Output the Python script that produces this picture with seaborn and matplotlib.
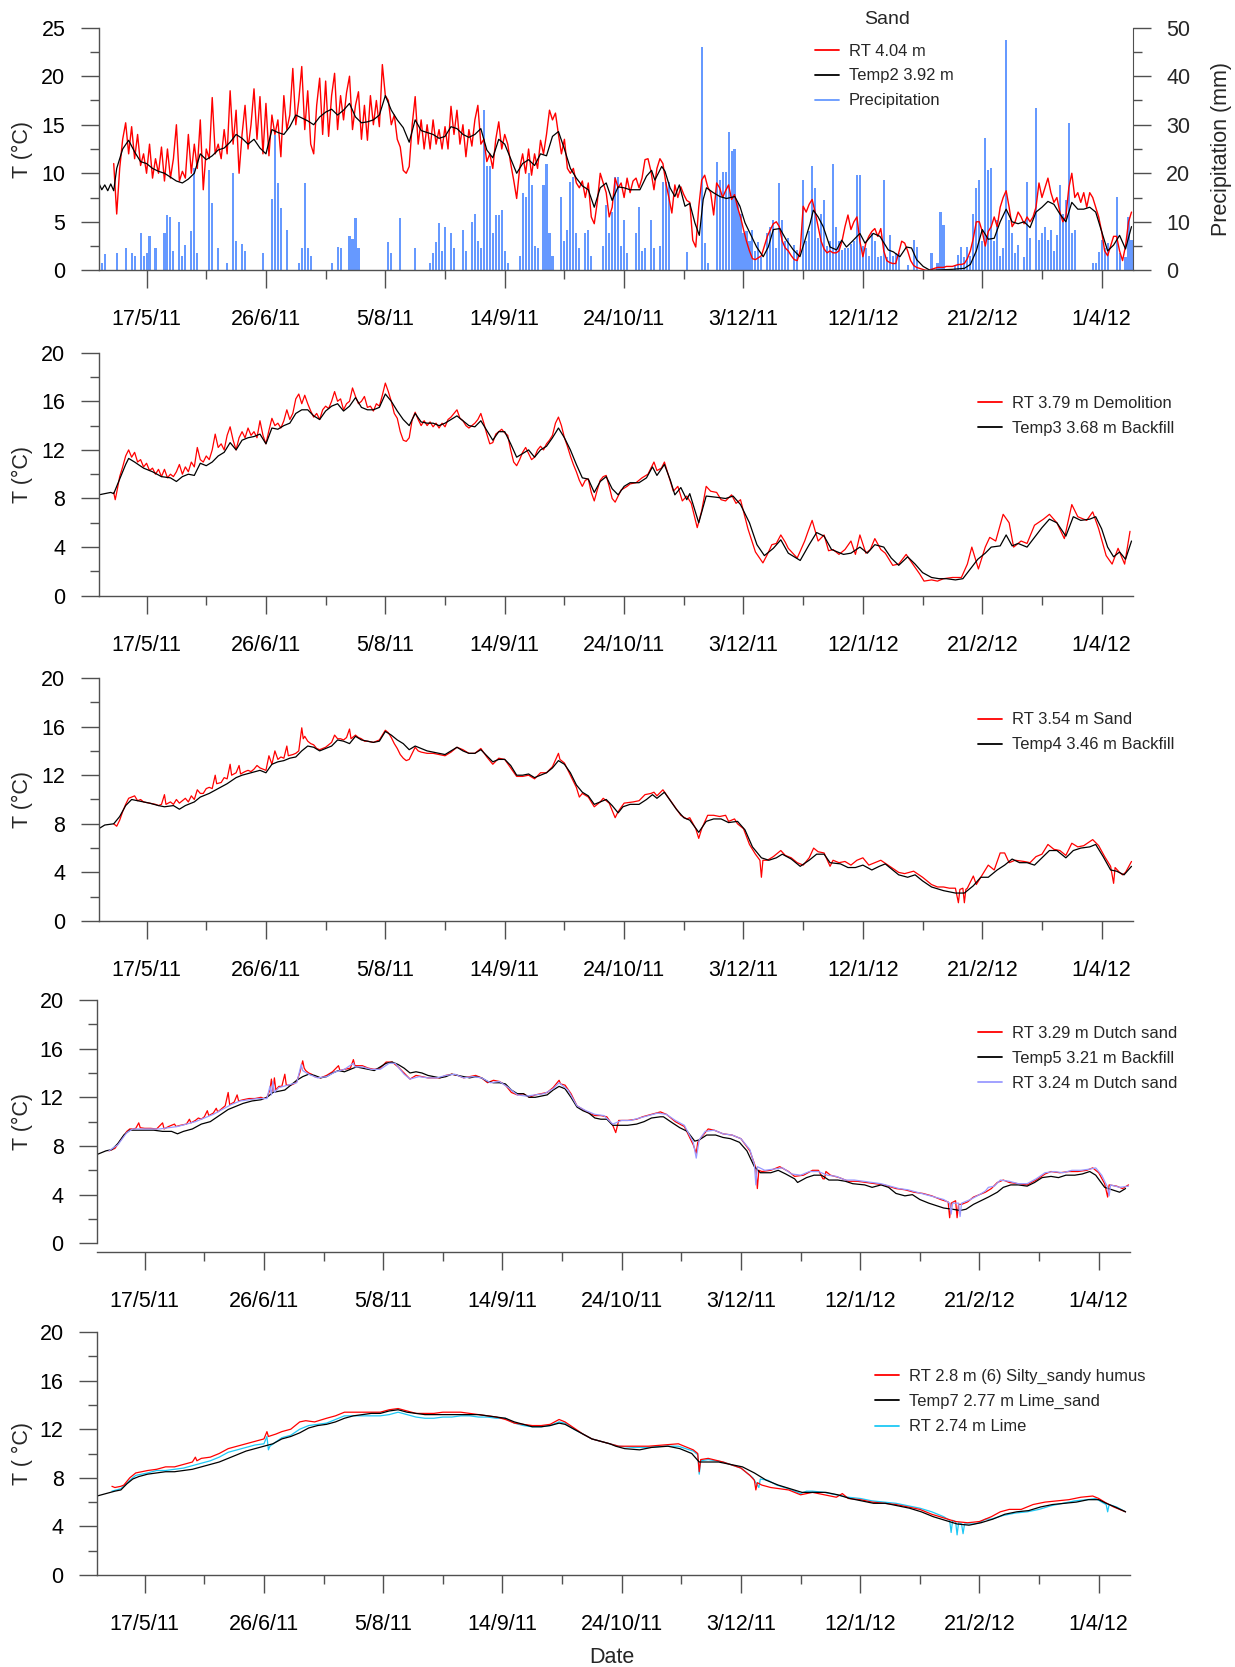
import numpy as np
import pandas as pd
import matplotlib
matplotlib.use("Agg")
import matplotlib.pyplot as plt
import matplotlib.dates as mdates
from matplotlib.ticker import MultipleLocator, FixedLocator
from matplotlib.lines import Line2D
import seaborn as sns

sns.set_style("ticks")
plt.rcParams["font.family"] = ["Liberation Sans", "DejaVu Sans"]

START = pd.Timestamp("2011-05-01")
X_END_DAY = 346.5

tick_days = [16, 56, 96, 136, 176, 216, 256, 296, 336]
tick_labels = ["17/5/11", "26/6/11", "5/8/11", "14/9/11", "24/10/11",
               "3/12/11", "12/1/12", "21/2/12", "1/4/12"]
minor_days = [36, 76, 116, 156, 196, 236, 276, 316]

# ---------------- panel 1 : Sand ----------------
# RT 4.04 m, daily readings starting on day 5
rt404_first_day = 5
rt404 = [
    11.0, 5.8, 10.5, 13.5, 15.2, 12.0, 14.8, 11.5, 14.0, 10.8,
    12.0, 10.0, 13.0, 9.5, 11.5, 10.0, 12.7, 9.2, 12.5, 9.5,
    11.5, 15.0, 9.2, 10.2, 9.5, 14.0, 10.0, 13.0, 10.5, 15.5,
    8.3, 12.5, 11.5, 17.8, 12.0, 13.0, 11.5, 14.5, 12.0, 18.5,
    13.0, 16.5, 10.0, 14.0, 17.0, 12.5, 15.0, 18.7, 13.5, 17.9,
    12.0, 17.2, 11.8, 16.0, 14.0, 15.5, 11.7, 18.0, 14.5, 16.0,
    20.8, 15.0, 17.5, 21.0, 14.5, 18.5, 13.0, 12.0, 17.0, 19.8,
    14.0, 19.5, 13.8, 18.0, 20.3, 14.5, 18.0, 15.5, 18.3, 20.0,
    14.5, 17.0, 18.4, 13.5, 17.0, 13.4, 18.0, 15.0, 17.5, 14.8,
    21.2, 18.0, 17.5, 15.0, 16.0, 13.5, 12.7, 10.3, 10.0, 10.7,
    15.0, 17.9, 13.0, 15.5, 12.5, 15.0, 12.5, 15.5, 13.0, 14.5,
    12.5, 14.8, 12.5, 16.9, 14.0, 16.5, 13.0, 15.0, 11.7, 14.5,
    12.8, 15.5, 17.0, 13.0, 13.5, 11.2, 12.0, 10.5, 13.5, 15.3,
    12.5, 14.0, 13.0, 11.0, 9.3, 7.4, 10.5, 12.0, 10.0, 12.5,
    9.8, 12.0, 10.5, 13.4, 12.0, 14.0, 16.5, 15.5, 16.2, 14.0,
    12.0, 13.5, 10.5, 10.0, 10.5, 9.0, 8.5, 9.2, 7.5, 9.0,
    5.5, 4.8, 7.0, 10.0, 9.0, 8.0, 5.5, 6.5, 9.5, 8.5,
    9.0, 7.5, 9.5, 8.0, 9.2, 9.5, 8.5, 9.5, 11.4, 11.5,
    10.2, 8.3, 10.5, 11.5, 11.0, 9.0, 7.5, 5.9, 8.8, 7.5,
    8.6, 7.8, 7.2, 7.0, 3.1, 2.4, 6.5, 9.3, 9.8, 8.6,
    8.0, 5.7, 9.0, 8.5, 7.5, 8.2, 8.8, 7.3, 7.8, 6.5,
    5.5, 4.2, 3.0, 2.0, 1.2, 1.1, 1.3, 1.5, 2.5, 3.5,
    4.2, 4.8, 5.0, 4.5, 3.0, 2.3, 2.0, 1.5, 1.1, 1.0,
    2.0, 6.6, 6.0, 6.8, 7.3, 6.0, 4.5, 3.0, 2.2, 1.8,
    2.0, 1.8, 1.8, 2.0, 3.0, 4.5, 5.7, 4.2, 5.0, 5.5,
    3.0, 1.4, 2.8, 3.5, 4.0, 4.3, 3.5, 4.3, 2.0, 1.0,
    0.8, 0.7, 0.7, 1.8, 3.0, 2.8, 2.0, 1.0, 0.5, 0.3,
    0.2, 0.1, 0.0, 0.0, 0.1, 0.2, 0.3, 0.3, 0.3, 0.4,
    0.4, 0.4, 0.5, 0.6, 0.6, 0.7, 1.2, 2.0, 3.3, 5.0,
    5.0, 4.0, 2.5, 4.0, 4.5, 5.5, 4.5, 6.5, 7.5, 8.2,
    6.5, 4.5, 5.0, 6.0, 5.5, 4.8, 5.5, 5.0, 5.5, 6.5,
    9.0, 7.5, 8.5, 9.5, 8.0, 7.0, 7.5, 6.0, 5.0, 5.5,
    8.5, 10.0, 7.5, 8.0, 7.0, 8.0, 6.5, 8.0, 7.5, 6.5,
    5.5, 4.0, 2.0, 1.5, 2.5, 3.5, 3.5, 2.0, 1.0, 2.5, 5.0, 6.0,
]

# Temp2 3.92 m, (day, T)
temp2 = [
    (0, 9.0), (1, 8.3), (2, 8.8), (3, 8.2), (4, 8.9), (5, 8.2), (6, 10.5), (8, 12.5),
    (10, 13.4), (12, 12.2), (14, 11.2), (16, 11.0), (18, 10.5), (20, 10.2), (22, 10.0),
    (24, 9.6), (26, 9.2), (28, 9.0), (30, 9.4), (32, 10.0), (34, 12.0), (36, 11.4),
    (38, 11.8), (40, 12.4), (42, 12.6), (44, 13.2), (46, 14.0), (48, 13.6), (50, 13.0),
    (52, 13.5), (54, 12.6), (56, 12.0), (58, 14.5), (60, 14.2), (62, 14.0), (64, 14.8),
    (66, 16.0), (68, 15.7), (70, 15.4), (72, 15.0), (74, 15.8), (76, 16.3), (78, 16.6),
    (80, 16.0), (82, 16.5), (84, 17.2), (86, 15.8), (88, 15.2), (90, 15.3), (92, 15.5),
    (94, 16.0), (96, 18.0), (98, 16.5), (100, 15.5), (102, 14.7), (104, 13.2), (106, 15.5),
    (108, 14.4), (110, 14.2), (112, 14.0), (114, 13.6), (116, 13.8), (118, 14.8),
    (120, 14.6), (122, 14.0), (124, 13.7), (126, 14.0), (128, 14.6), (130, 12.4),
    (132, 11.6), (134, 13.5), (136, 13.0), (138, 11.5), (140, 10.0), (142, 11.0),
    (144, 11.4), (146, 10.8), (148, 12.0), (150, 11.8), (152, 13.8), (154, 14.3),
    (156, 12.5), (158, 10.5), (160, 9.5), (162, 8.7), (164, 8.3), (166, 6.5), (168, 8.5),
    (170, 9.0), (172, 7.2), (174, 8.6), (176, 8.5), (178, 8.3), (181.3, 8.3), (183.5, 9.7),
    (185.2, 10.3), (186.3, 9.3), (188.6, 10.7), (189.7, 10.2), (191.4, 8.5), (193, 7.6),
    (194.5, 8.8), (196.4, 6.6), (198, 6.9), (199.7, 4.9), (201.2, 3.6), (202.5, 7.3),
    (203.6, 8.5), (205.9, 8.0), (208.1, 7.6), (210.3, 7.4), (213.1, 7.6), (214.8, 6.6),
    (216.5, 4.9), (218.2, 3.8), (220.4, 2.4), (222.6, 1.4), (224.3, 2.4), (226, 4.2),
    (228.2, 4.3), (230.4, 3.1), (232.7, 2.1), (234.9, 1.4), (236.6, 3.1), (238.3, 4.8),
    (239.4, 6.2), (241, 5.5), (242.7, 4.5), (245, 2.4), (247.2, 2.1), (248.9, 3.1),
    (250.5, 2.4), (252.8, 3.1), (255, 3.8), (256.7, 2.8), (259.5, 3.8), (261.7, 3.5),
    (264.5, 2.1), (266.2, 1.9), (268.4, 1.4), (270.6, 2.4), (272.3, 2.3), (274, 1.1),
    (276.2, 0.4), (278.5, 0.0), (282, 0.05), (286, 0.1), (290, 0.2), (292, 0.6),
    (294, 2.0), (296, 4.2), (298, 3.2), (300, 3.3), (302, 5.0), (304, 6.3), (306, 5.0),
    (308, 4.8), (310, 5.0), (312, 4.4), (314, 6.0), (316, 6.5), (318, 7.1), (320, 6.8),
    (322, 5.8), (324, 5.0), (326, 7.0), (328, 6.3), (330, 6.3), (332, 6.5), (334, 6.0),
    (336, 4.0), (338, 2.0), (340, 2.6), (342, 3.6), (344, 2.2), (346, 4.5),
]

# Daily precipitation (day, mm)
precipitation = [
    (1, 1.5), (2, 3.4), (6, 3.5), (9, 4.5), (11, 3.5), (12, 3.0), (14, 7.6), (15, 3.0),
    (16, 3.5), (17, 7.0), (19, 4.5), (22, 7.6), (23, 11.4), (24, 11.0), (25, 4.0),
    (27, 10.0), (28, 3.0), (29, 5.2), (31, 8.0), (32, 21.0), (33, 3.5), (37, 20.7),
    (38, 13.8), (40, 4.5), (43, 1.5), (45, 20.0), (46, 6.0), (48, 5.5), (49, 4.0),
    (55, 3.5), (58, 14.6), (59, 27.9), (60, 17.9), (61, 12.8), (63, 8.3), (67, 1.5),
    (68, 4.5), (69, 17.9), (70, 4.5), (71, 3.0), (78, 1.5), (80, 4.9), (81, 4.5),
    (84, 7.0), (85, 6.5), (86, 10.7), (87, 4.5), (97, 5.9), (98, 3.5), (101, 10.7),
    (106, 4.5), (111, 1.5), (112, 3.5), (113, 5.9), (114, 9.7), (115, 4.0), (116, 9.0),
    (118, 7.6), (119, 4.5), (122, 8.3), (123, 4.0), (125, 10.0), (126, 11.7), (127, 6.0),
    (128, 4.5), (129, 33.0), (130, 21.4), (131, 21.4), (132, 7.6), (133, 11.4),
    (134, 11.4), (135, 12.4), (136, 4.0), (137, 1.5), (141, 3.0), (142, 15.9),
    (143, 15.2), (144, 20.0), (145, 17.6), (146, 5.0), (147, 4.5), (149, 17.6),
    (150, 22.0), (151, 7.6), (152, 3.0), (155, 15.2), (156, 6.0), (157, 8.3),
    (158, 18.3), (159, 19.3), (160, 7.6), (161, 4.5), (163, 7.6), (164, 8.3), (165, 3.0),
    (169, 5.0), (170, 13.5), (171, 7.6), (172, 12.0), (173, 19.3), (174, 19.3),
    (175, 5.0), (176, 10.4), (177, 3.5), (180, 7.6), (181, 13.1), (182, 4.0), (183, 4.5),
    (185, 10.4), (186, 4.5), (188, 5.0), (189, 18.3), (190, 18.3), (191, 18.3),
    (197, 3.8), (202, 46.0), (203, 5.6), (204, 1.5), (207, 22.4), (208, 18.6),
    (209, 20.3), (210, 20.3), (211, 28.6), (212, 24.5), (213, 25.1), (214, 13.8),
    (215, 11.7), (216, 7.6), (217, 8.0), (218, 6.0), (219, 8.3), (220, 4.0), (221, 5.8),
    (222, 2.8), (224, 7.6), (225, 9.0), (226, 10.4), (227, 4.5), (228, 17.9), (229, 10.4),
    (230, 6.0), (231, 6.6), (233, 5.2), (234, 4.2), (236, 18.6), (237, 6.0), (238, 8.0),
    (239, 21.4), (240, 16.9), (241, 6.6), (242, 11.7), (243, 14.5), (244, 5.0),
    (245, 6.0), (246, 22.0), (247, 9.0), (248, 6.0), (249, 4.2), (250, 4.5), (251, 4.5),
    (252, 5.5), (253, 6.0), (254, 19.6), (255, 19.6), (256, 5.0), (257, 4.5), (258, 3.0),
    (259, 7.6), (260, 6.0), (261, 2.8), (262, 3.0), (263, 18.6), (264, 2.8), (265, 7.3),
    (266, 3.0), (267, 3.5), (268, 3.5), (271, 1.0), (273, 6.2), (274, 4.9), (279, 3.5),
    (281, 1.5), (282, 12.1), (283, 9.3), (287, 1.0), (288, 3.2), (289, 4.9), (290, 2.8),
    (291, 4.9), (292, 3.0), (293, 11.7), (294, 16.9), (295, 18.6), (296, 6.0),
    (297, 27.2), (298, 20.7), (299, 21.0), (300, 6.0), (301, 10.4), (302, 3.0),
    (303, 4.5), (304, 47.5), (305, 10.4), (306, 7.6), (307, 3.5), (308, 5.2), (310, 2.8),
    (311, 18.3), (312, 6.6), (314, 33.4), (315, 6.2), (316, 7.6), (317, 9.0), (318, 6.2),
    (319, 8.3), (320, 4.0), (321, 7.3), (322, 17.6), (323, 11.7), (324, 14.5),
    (325, 30.3), (326, 7.6), (327, 8.3), (333, 1.5), (334, 1.5), (335, 3.8), (336, 6.2),
    (337, 4.5), (338, 5.6), (341, 15.2), (342, 3.5), (344, 2.8), (345, 11.0), (346, 6.2),
]

# ---------------- panel 2 : Demolition / Backfill ----------------
rt379 = [
    (5, 8.5), (5.5, 7.9), (6, 8.5), (7, 9.8), (8, 10.6), (9, 11.5), (10, 12.0), (11, 11.4),
    (12, 11.8), (13, 11.0), (14, 11.2), (15, 10.6), (16, 10.9), (17, 10.3), (18, 10.5),
    (19, 10.0), (20, 10.4), (21, 9.8), (22, 10.4), (23, 9.7), (24, 10.0), (25, 9.8),
    (26, 10.2), (27, 10.8), (28, 10.0), (29, 10.6), (30, 10.2), (31, 11.0), (32, 10.6),
    (33, 12.2), (34, 11.2), (35, 11.0), (36, 11.5), (37, 11.2), (38, 12.0), (39, 13.3),
    (40, 12.2), (41, 12.5), (42, 12.0), (43, 13.2), (44, 13.9), (45, 12.8), (46, 12.0),
    (47, 13.0), (48, 13.5), (49, 13.0), (50, 13.8), (51, 13.2), (52, 13.5), (53, 13.0),
    (54, 14.4), (55, 13.2), (56, 12.5), (57, 13.6), (58, 14.6), (59, 14.0), (60, 14.2),
    (61, 13.8), (62, 14.4), (63, 15.3), (64, 14.5), (65, 15.0), (66, 16.2), (67, 16.6),
    (68, 15.8), (69, 16.5), (70, 15.8), (71, 15.2), (72, 14.7), (73, 15.0), (74, 14.5),
    (75, 15.3), (76, 15.6), (77, 15.4), (78, 16.0), (79, 16.8), (80, 16.0), (81, 16.2),
    (82, 15.3), (83, 15.8), (84, 16.0), (85, 17.1), (86, 16.4), (87, 15.8), (88, 16.0),
    (89, 16.4), (90, 15.5), (91, 15.6), (92, 15.2), (93, 15.8), (94, 15.6), (95, 16.5),
    (96, 17.5), (97, 16.8), (98, 16.0), (99, 15.0), (100, 14.6), (101, 13.5), (102, 12.8),
    (103, 12.7), (104, 13.0), (105, 14.5), (106, 15.1), (107, 14.5), (108, 14.0),
    (109, 14.4), (110, 14.0), (111, 14.3), (112, 13.9), (113, 14.2), (114, 13.8),
    (115, 14.2), (116, 13.9), (117, 14.5), (118, 14.7), (119, 15.0), (120, 15.3),
    (121, 14.6), (122, 14.4), (123, 14.0), (124, 13.8), (125, 14.0), (126, 14.2),
    (127, 14.5), (128, 15.0), (129, 14.2), (130, 13.3), (131, 12.5), (132, 12.6),
    (133, 13.3), (134, 13.5), (135, 13.7), (136, 13.4), (137, 13.2), (138, 12.0),
    (139, 11.0), (140, 10.7), (141, 11.2), (142, 11.8), (143, 12.2), (144, 11.7),
    (145, 11.2), (146, 11.4), (147, 12.0), (148, 12.3), (149, 12.0), (150, 12.5),
    (151, 12.8), (152, 13.2), (153, 14.2), (154, 14.7), (155, 14.0), (156, 13.0),
    (157, 12.3), (158, 11.5), (159, 10.8), (160, 10.2), (161, 9.5), (162, 9.0), (163, 9.5),
    (164, 9.6), (165, 8.5), (166, 7.8), (167, 8.7), (168, 9.5), (169, 9.8), (170, 9.9),
    (171, 9.0), (172, 8.0), (173, 7.7), (175, 8.7), (177, 9.0), (178, 9.2), (180, 9.3),
    (182, 9.7), (184, 10.0), (186, 11.0), (187, 10.3), (188.5, 10.5), (189.5, 11.0),
    (191, 9.8), (192.5, 8.6), (194, 9.0), (195.5, 7.8), (197, 8.2), (198.5, 7.6),
    (200.5, 5.6), (202, 7.0), (203.5, 9.0), (205, 8.6), (207, 8.5), (208.5, 7.9),
    (210, 7.8), (212, 8.3), (213.5, 7.6), (215, 7.9), (217.5, 5.5), (220, 3.6),
    (222.5, 2.7), (224, 3.4), (225.5, 4.2), (227, 4.3), (228.5, 5.0), (230, 4.4),
    (231, 3.9), (234, 3.1), (236.5, 4.5), (237.5, 5.2), (239, 6.2), (241, 4.5), (243, 5.0),
    (244.5, 3.7), (246, 3.8), (248, 3.4), (250, 3.8), (252, 4.5), (253.5, 3.4), (255, 5.0),
    (257, 3.5), (258.5, 3.8), (260, 4.7), (262, 3.8), (263.5, 3.5), (266, 2.5), (268, 2.6),
    (270.5, 3.4), (273, 2.5), (275, 1.8), (276.5, 1.2), (279, 1.3), (281, 1.2), (283, 1.4),
    (286, 1.5), (289, 1.5), (291, 2.6), (292.5, 4.0), (294.7, 2.2), (297, 4.0),
    (298.5, 4.8), (300.5, 4.5), (303, 6.7), (305, 6.0), (306.5, 4.0), (309, 4.5),
    (311, 4.3), (313.5, 5.8), (316.5, 6.3), (318.5, 6.7), (321, 6.0), (323.5, 4.7),
    (326, 7.5), (328, 6.5), (331, 6.2), (333, 6.9), (335, 5.5), (337.5, 3.3),
    (339.5, 2.6), (341.5, 3.9), (343.7, 2.6), (345.5, 5.3),
]
temp3 = [
    (0, 8.3), (2, 8.4), (4, 8.5), (5, 8.4), (7, 9.6), (9, 10.8), (10, 11.3), (12, 11.0),
    (15, 10.5), (18, 10.2), (21, 9.8), (24, 9.7), (26, 9.4), (28, 9.8), (30, 10.0),
    (32, 9.9), (34, 10.9), (36, 10.7), (38, 11.0), (40, 11.5), (42, 11.8), (44, 12.6),
    (46, 12.0), (48, 12.8), (50, 13.0), (52, 13.1), (54, 13.3), (56, 12.5), (58, 13.8),
    (60, 13.7), (62, 14.0), (64, 14.2), (66, 15.0), (68, 15.3), (70, 15.3), (72, 14.8),
    (74, 14.5), (76, 15.2), (78, 15.6), (80, 15.8), (82, 15.2), (84, 15.6), (86, 16.3),
    (88, 15.5), (90, 15.3), (92, 15.3), (94, 15.5), (96, 16.6), (98, 16.0), (100, 15.2),
    (102, 14.5), (104, 14.0), (106, 15.0), (108, 14.3), (110, 14.2), (112, 14.2),
    (114, 14.0), (116, 14.2), (118, 14.5), (120, 14.8), (122, 14.4), (124, 14.0),
    (126, 13.9), (128, 14.4), (130, 13.6), (132, 12.8), (134, 13.5), (136, 13.5),
    (138, 12.5), (140, 11.4), (142, 11.7), (144, 12.0), (146, 11.4), (148, 12.0),
    (150, 12.3), (152, 13.0), (154, 13.8), (156, 13.0), (158, 12.0), (160, 10.8),
    (162, 9.7), (164, 9.6), (166, 8.5), (168, 9.4), (170, 9.8), (172, 8.8), (174, 8.3),
    (176, 9.0), (178, 9.3), (181, 9.3), (183.5, 9.7), (185.5, 10.6), (187, 9.9),
    (189.5, 10.8), (191.5, 9.5), (193, 8.3), (195, 8.9), (197, 7.9), (198, 8.4), (201, 6.0),
    (203.5, 8.2), (207, 8.1), (210, 8.0), (212.5, 8.2), (215, 7.5), (218, 6.0),
    (220.5, 4.2), (223, 3.3), (226, 3.9), (228.5, 4.6), (231, 3.5), (235, 2.9), (238, 4.2),
    (240.5, 5.2), (243, 4.9), (245.5, 3.8), (249.5, 3.4), (252, 3.5), (255, 4.0),
    (257.5, 3.5), (260, 4.2), (263, 4.0), (265.5, 3.1), (268, 2.5), (271, 3.2),
    (273.5, 2.6), (276, 1.9), (279, 1.5), (281.5, 1.4), (284, 1.4), (287, 1.3),
    (289.5, 1.4), (292, 2.2), (294.5, 3.0), (297, 3.5), (299, 4.0), (302, 4.1), (304, 5.0),
    (306, 4.1), (308, 4.3), (311, 4.0), (313.5, 4.8), (316, 5.6), (318.5, 6.3), (321, 6.0),
    (324, 4.9), (326.5, 6.5), (329, 6.2), (332, 6.3), (334, 6.5), (336, 5.5), (338, 4.0),
    (340, 3.2), (342, 3.6), (344, 3.0), (346, 4.5),
]

# ---------------- panel 3 : Sand / Backfill ----------------
rt354 = [
    (5, 8.0), (6, 7.8), (7, 8.3), (8, 9.0), (9, 9.6), (10, 10.1), (11, 10.2), (12, 10.3),
    (13, 9.9), (14, 10.0), (15, 9.8), (17, 9.7), (19, 9.6), (20, 9.5), (21, 9.6),
    (22, 10.4), (22.5, 9.6), (24, 9.8), (25, 9.6), (26, 10.0), (27, 9.7), (28, 9.9),
    (29, 10.1), (30, 9.8), (31, 10.3), (32, 10.0), (33, 10.8), (34, 10.5), (35, 10.5),
    (36, 10.9), (37, 11.0), (38, 10.9), (39, 12.0), (39.5, 11.3), (41, 11.4), (42, 11.8),
    (43, 11.7), (44, 12.9), (44.5, 12.0), (46, 12.2), (47, 12.8), (47.5, 12.1), (49, 12.3),
    (50, 12.4), (51, 12.3), (52, 12.5), (53, 12.8), (54, 12.6), (55, 12.5), (56, 12.4),
    (57, 13.6), (58, 12.9), (59, 14.0), (60, 13.3), (61, 13.5), (62, 13.4), (63, 14.4),
    (63.5, 13.6), (65, 13.7), (66, 13.8), (67, 14.0), (68, 15.9), (68.5, 15.0), (69, 15.2),
    (70, 14.8), (71, 14.6), (72, 14.5), (73, 14.2), (74, 14.1), (75, 14.2), (76, 14.3),
    (77, 14.5), (78, 14.7), (79, 15.3), (80, 15.0), (81, 15.0), (82, 14.9), (83, 15.1),
    (84, 15.8), (84.5, 15.0), (86, 15.3), (87, 15.1), (88, 15.0), (89, 14.8), (90, 14.8),
    (92, 14.7), (94, 14.9), (96, 15.7), (97, 15.5), (98, 15.1), (99, 14.6), (100, 14.2),
    (101, 13.7), (102, 13.4), (103, 13.2), (104, 13.3), (105, 13.8), (106, 14.3),
    (107, 14.0), (108, 13.9), (110, 13.8), (112, 13.8), (114, 13.7), (116, 13.6),
    (118, 13.9), (120, 14.3), (122, 14.1), (124, 13.8), (126, 13.8), (128, 14.2),
    (130, 13.5), (132, 12.9), (134, 13.4), (136, 13.3), (138, 12.6), (140, 11.9),
    (142, 11.9), (144, 12.0), (146, 11.7), (148, 12.2), (150, 12.2), (152, 12.7),
    (154, 13.8), (154.5, 13.3), (156, 13.0), (158, 12.0), (160, 11.0), (161, 10.2),
    (162, 10.5), (164, 10.2), (166, 9.4), (168, 9.8), (169, 10.1), (171, 9.7), (173, 8.5),
    (174, 9.0), (176, 9.7), (179, 9.8), (181, 9.9), (183, 10.4), (185, 10.5), (186, 10.6),
    (187, 10.3), (189, 10.8), (191, 10.1), (193, 9.4), (195, 8.7), (197, 8.4), (198, 8.5),
    (200, 7.6), (201, 6.8), (202, 7.6), (204, 8.7), (206, 8.7), (208, 8.6), (210, 8.7),
    (211, 8.2), (213, 8.4), (214, 8.0), (216, 7.6), (218, 6.3), (220, 5.5), (221.5, 5.0),
    (222, 3.6), (222.5, 5.0), (224, 5.0), (226, 5.3), (228.5, 5.8), (230, 5.4), (232, 5.2),
    (234, 4.8), (236, 4.6), (238, 5.2), (239.5, 6.0), (241, 5.7), (243, 5.6), (245, 4.5),
    (246, 5.0), (248, 4.8), (250, 4.9), (252, 4.6), (254, 5.0), (256, 5.2), (258, 4.6),
    (260, 4.8), (262, 5.0), (265, 4.5), (268, 4.0), (270, 3.9), (273, 4.1), (276, 3.6),
    (279, 3.0), (281, 2.8), (283, 2.8), (285, 2.7), (287, 2.7), (288, 1.5), (288.5, 2.6),
    (289.5, 2.7), (290, 1.5), (290.5, 2.6), (291, 2.7), (293, 3.7), (294, 3.0), (296, 3.8),
    (298, 4.6), (300, 4.2), (302, 5.6), (303.5, 5.6), (305, 4.8), (307, 5.0), (310, 4.9),
    (312, 4.8), (314, 5.3), (316, 5.5), (318, 6.3), (320, 5.9), (322, 5.8), (324, 5.4),
    (326, 6.4), (328, 6.1), (330, 6.2), (333, 6.7), (335, 6.2), (337, 5.3), (338, 4.9),
    (339, 4.5), (340, 3.1), (340.5, 4.4), (342, 4.0), (343, 3.8), (344, 4.0), (346, 4.9),
]
temp4 = [
    (0, 7.6), (2, 7.9), (5, 8.0), (7, 8.6), (9, 9.5), (11, 10.0), (13, 9.9), (15, 9.8),
    (17, 9.7), (20, 9.5), (22, 9.4), (25, 9.5), (27, 9.2), (29, 9.5), (32, 9.8), (34, 10.2),
    (37, 10.5), (40, 10.9), (43, 11.3), (46, 11.8), (48, 12.0), (51, 12.2), (54, 12.4),
    (56, 12.2), (58, 12.9), (60, 13.1), (62, 13.2), (64, 13.4), (66, 13.5), (68, 14.0),
    (70, 14.4), (72, 14.3), (74, 14.0), (76, 14.2), (78, 14.4), (80, 14.9), (82, 14.8),
    (84, 14.6), (86, 15.2), (88, 14.9), (90, 14.8), (92, 14.7), (94, 14.8), (96, 15.6),
    (98, 15.3), (100, 14.9), (102, 14.6), (104, 14.1), (106, 14.4), (108, 14.2),
    (110, 14.0), (112, 13.9), (114, 13.8), (116, 13.7), (118, 14.0), (120, 14.3),
    (122, 14.0), (124, 13.8), (126, 13.8), (128, 14.1), (130, 13.6), (132, 13.1),
    (134, 13.3), (136, 13.3), (138, 12.8), (140, 12.0), (142, 12.0), (144, 12.1),
    (146, 11.8), (148, 12.0), (150, 12.2), (152, 12.6), (154, 13.2), (156, 12.9),
    (158, 12.2), (160, 11.2), (162, 10.6), (164, 10.3), (166, 9.6), (168, 9.8), (170, 10.0),
    (172, 9.5), (174, 8.9), (175.6, 9.4), (178, 9.6), (181, 9.6), (183.5, 10.0),
    (185.5, 10.4), (187, 10.1), (189.5, 10.6), (191.5, 9.9), (193.5, 9.2), (196, 8.5),
    (198, 8.3), (201, 7.3), (203.5, 8.2), (206, 8.4), (208.5, 8.4), (211, 8.1), (214, 8.2),
    (216.5, 7.5), (219, 6.1), (222, 5.2), (224.5, 5.0), (227, 5.2), (229, 5.5), (232, 5.1),
    (235, 4.5), (238, 5.0), (240.5, 5.5), (243, 5.5), (245, 4.8), (248.5, 4.7), (251, 4.4),
    (253.5, 4.4), (256, 4.6), (259, 4.2), (261.5, 4.5), (263.5, 4.7), (265.5, 4.3),
    (268, 3.8), (271, 3.6), (273.5, 3.8), (276, 3.3), (279, 2.8), (283, 2.5), (287, 2.3),
    (290, 2.3), (293, 2.9), (295.5, 3.6), (298, 3.6), (301, 4.2), (303.5, 4.6), (306, 5.1),
    (308.5, 4.8), (311, 4.8), (313.5, 4.6), (316, 5.2), (318.5, 5.8), (321, 5.8),
    (324, 5.2), (326.5, 5.8), (329, 6.0), (332, 6.1), (334, 6.3), (336.5, 5.3), (339, 4.2),
    (341, 4.1), (343.5, 3.8), (346, 4.5),
]

# ---------------- panel 4 : Dutch sand / Backfill ----------------
rt329 = [
    (4, 7.6), (6, 7.8), (8, 8.5), (10, 9.2), (11, 9.4), (12, 9.4), (13, 9.45), (14, 9.9),
    (14.5, 9.5), (16, 9.45), (18, 9.45), (20, 9.4), (22, 9.9), (22.5, 9.4), (24, 9.6),
    (26, 9.8), (26.5, 9.6), (28, 9.7), (30, 9.8), (31, 10.2), (31.5, 9.9), (33, 10.1),
    (34, 10.3), (35, 10.2), (36, 10.4), (37, 10.9), (37.5, 10.5), (39, 10.7), (40, 11.1),
    (40.5, 10.8), (42, 11.1), (43, 11.3), (44, 12.4), (44.5, 11.4), (46, 11.6), (47, 12.2),
    (47.5, 11.7), (49, 11.8), (51, 11.9), (53, 11.9), (55, 12.0), (56, 11.9), (57, 12.0),
    (58, 12.6), (58.5, 13.5), (59, 12.5), (59.5, 13.6), (60, 12.6), (61, 12.9), (62, 12.9),
    (63, 13.9), (63.5, 13.0), (65, 13.0), (66, 13.1), (67, 13.3), (68, 14.0), (69, 15.0),
    (69.5, 14.4), (70, 14.2), (71, 14.0), (72, 13.9), (73, 13.7), (75, 13.6), (77, 13.8),
    (79, 14.1), (81, 14.6), (81.5, 14.2), (83, 14.3), (85, 14.4), (86, 15.1), (86.5, 14.6),
    (88, 14.6), (89, 14.6), (91, 14.4), (93, 14.3), (95, 14.4), (97, 14.9), (99, 14.9),
    (101, 14.5), (103, 14.0), (105, 13.5), (107, 13.8), (109, 13.7), (111, 13.6),
    (113, 13.6), (115, 13.6), (117, 13.8), (119, 13.9), (121, 13.8), (123, 13.6),
    (125, 13.7), (127, 13.8), (129, 13.6), (131, 13.2), (133, 13.4), (135, 13.3),
    (137, 13.0), (139, 12.4), (141, 12.2), (143, 12.3), (145, 12.0), (147, 12.2),
    (149, 12.3), (151, 12.4), (153, 12.8), (155, 13.4), (155.5, 13.1), (157, 13.0),
    (159, 12.3), (161, 11.3), (163, 11.0), (165, 10.7), (167, 10.5), (169, 10.5),
    (171, 10.4), (173, 9.7), (174, 9.1), (175, 10.1), (178, 10.1), (181, 10.2), (183, 10.4),
    (186, 10.6), (189, 10.8), (191, 10.6), (194, 10.0), (197, 9.6), (200, 8.1), (201, 7.4),
    (201.5, 8.3), (203, 8.8), (205, 9.4), (207, 9.3), (210, 9.0), (213, 8.9), (216, 8.6),
    (219, 7.6), (221, 6.2), (221.5, 4.5), (222, 6.0), (223, 5.9), (226, 6.0), (229, 6.3),
    (232, 5.9), (234, 5.5), (237, 5.6), (240, 6.0), (242, 6.0), (243.5, 5.3), (244, 5.3),
    (244.5, 5.9), (246, 5.6), (249, 5.4), (252, 5.1), (255, 5.1), (258, 5.0), (261, 4.9),
    (264, 4.8), (268, 4.5), (271, 4.4), (274, 4.2), (277, 4.1), (280, 3.9), (283, 3.6),
    (285.5, 3.4), (286, 2.1), (286.5, 3.3), (288, 3.5), (288.5, 2.1), (289, 3.2),
    (290, 3.2), (292, 3.4), (294, 3.8), (296, 4.0), (298, 4.2), (300, 4.5), (302, 5.0),
    (304, 5.2), (306, 5.0), (309, 4.9), (312, 4.8), (315, 5.2), (318, 5.7), (320, 5.9),
    (323, 5.8), (326, 5.9), (329, 5.9), (332, 6.0), (334, 6.2), (336, 5.8), (338, 4.9),
    (339, 3.8), (339.5, 4.8), (342, 4.7), (344, 4.5), (346, 4.8),
]
temp5 = [
    (0, 7.3), (3, 7.6), (5, 7.7), (7, 8.2), (9, 8.9), (11, 9.3), (13, 9.3), (16, 9.3),
    (19, 9.3), (22, 9.2), (25, 9.2), (27, 9.0), (29, 9.2), (32, 9.4), (35, 9.8), (38, 10.0),
    (41, 10.5), (44, 11.0), (46, 11.2), (49, 11.5), (52, 11.7), (55, 11.8), (57, 12.0),
    (59, 12.4), (61, 12.5), (63, 12.6), (65, 13.0), (67, 13.4), (69, 13.7), (71, 13.9),
    (73, 13.8), (75, 13.6), (77, 13.7), (79, 14.0), (81, 14.2), (83, 14.1), (85, 14.3),
    (87, 14.5), (89, 14.4), (91, 14.3), (93, 14.2), (95, 14.5), (97, 14.8), (99, 14.9),
    (101, 14.7), (103, 14.4), (105, 14.0), (107, 14.1), (109, 14.0), (111, 13.8),
    (113, 13.7), (115, 13.6), (117, 13.7), (119, 13.9), (121, 13.8), (123, 13.7),
    (125, 13.6), (127, 13.7), (129, 13.6), (131, 13.3), (133, 13.2), (135, 13.2),
    (137, 13.1), (139, 12.6), (141, 12.3), (143, 12.3), (145, 12.0), (147, 12.0),
    (149, 12.1), (151, 12.2), (153, 12.6), (155, 12.9), (157, 12.7), (159, 12.0),
    (161, 11.2), (163, 10.9), (165, 10.7), (167, 10.3), (169, 10.2), (171, 10.2),
    (173, 9.7), (176, 9.7), (178, 9.7), (181, 9.8), (183.5, 10.0), (186, 10.3), (189, 10.4),
    (190, 10.4), (193, 9.9), (195.5, 9.5), (198, 9.2), (200.5, 8.4), (202, 8.5),
    (204.5, 8.9), (207.5, 8.9), (210, 8.7), (212.5, 8.6), (215.5, 8.3), (218, 7.6),
    (220.5, 6.3), (222.5, 5.8), (226, 5.8), (228.5, 6.0), (231, 5.7), (234, 5.3), (235, 5.0),
    (238, 5.4), (240.5, 5.6), (243, 5.6), (245.5, 5.2), (248.5, 5.2), (251, 5.1),
    (253.5, 4.9), (257.5, 4.8), (260, 4.6), (263, 4.8), (265.5, 4.6), (268, 4.1), (271, 3.9),
    (273.5, 4.0), (276, 3.6), (279, 3.3), (281.5, 3.1), (284, 2.9), (287, 2.8), (289.5, 2.7),
    (291.5, 2.8), (294, 3.2), (296.5, 3.5), (299, 3.8), (302, 4.2), (304, 4.6), (306.5, 4.8),
    (309, 4.8), (312, 4.7), (314.5, 5.0), (317, 5.4), (320, 5.5), (322.5, 5.4), (325, 5.6),
    (328, 5.6), (330.5, 5.7), (333, 5.9), (335, 5.6), (338, 4.6), (340.5, 4.4), (343, 4.2),
    (345, 4.5),
]
rt324 = [
    (4, 7.6), (7, 8.1), (10, 9.1), (12, 9.4), (15, 9.4), (18, 9.4), (21, 9.4), (24, 9.5),
    (27, 9.6), (30, 9.8), (33, 10.0), (36, 10.3), (39, 10.6), (42, 11.0), (45, 11.4),
    (48, 11.7), (51, 11.8), (54, 11.9), (57, 11.9), (58, 12.9), (58.5, 12.2), (59, 13.3),
    (59.5, 12.4), (61, 12.8), (64, 13.0), (67, 13.2), (68.5, 14.7), (69, 14.2), (71, 13.9),
    (74, 13.6), (77, 13.7), (80, 14.1), (83, 14.3), (86, 14.8), (86.5, 14.5), (89, 14.5),
    (92, 14.3), (95, 14.3), (98, 14.8), (100, 14.8), (103, 13.9), (105, 13.5), (108, 13.7),
    (111, 13.6), (114, 13.6), (117, 13.8), (120, 13.9), (123, 13.6), (126, 13.7),
    (129, 13.6), (132, 13.2), (135, 13.3), (138, 12.8), (141, 12.2), (144, 12.1),
    (147, 12.2), (150, 12.3), (153, 12.7), (155, 13.2), (158, 12.6), (161, 11.3),
    (164, 10.9), (167, 10.6), (170, 10.5), (173, 9.8), (176, 10.1), (179, 10.1),
    (182, 10.3), (185, 10.5), (188, 10.7), (191, 10.6), (194, 10.1), (197, 9.7), (200, 8.3),
    (201, 7.0), (202, 8.5), (204, 9.2), (207, 9.3), (210, 9.0), (213, 8.9), (216, 8.6),
    (219, 7.7), (220.5, 6.5), (221, 4.8), (221.5, 6.3), (224, 6.0), (227, 6.1), (230, 6.2),
    (233, 5.7), (236, 5.6), (239, 5.9), (242, 5.9), (245, 5.6), (248, 5.5), (251, 5.2),
    (254, 5.2), (257, 5.1), (260, 5.0), (263, 4.9), (266, 4.7), (269, 4.5), (272, 4.4),
    (275, 4.2), (278, 4.0), (281, 3.8), (284, 3.6), (286, 3.3), (286.5, 2.4), (287, 3.3),
    (289, 3.3), (289.5, 2.2), (290, 3.3), (293, 3.6), (296, 4.0), (298, 4.3), (299, 4.6),
    (301, 4.7), (303, 5.2), (306, 5.1), (309, 4.9), (312, 4.9), (315, 5.3), (318, 5.8),
    (321, 5.9), (324, 5.8), (327, 6.0), (330, 6.0), (333, 6.1), (335, 6.2), (337, 5.6),
    (339, 4.6), (339.5, 3.9), (340, 4.8), (343, 4.6), (346, 4.7),
]

# ---------------- panel 5 : Silty sandy humus / Lime ----------------
rt280 = [
    (5, 7.3), (6, 7.2), (8, 7.3), (9, 7.4), (11, 8.0), (13, 8.4), (15, 8.5), (17, 8.6),
    (20, 8.7), (23, 8.9), (26, 8.9), (29, 9.1), (32, 9.3), (33, 9.7), (33.5, 9.4), (35, 9.6),
    (38, 9.7), (41, 10.0), (44, 10.4), (47, 10.6), (50, 10.8), (53, 11.0), (56, 11.2),
    (57, 11.8), (57.5, 11.4), (60, 11.6), (62, 11.8), (65, 12.0), (68, 12.6), (70, 12.7),
    (73, 12.6), (77, 12.9), (80, 13.1), (83, 13.4), (86, 13.4), (89, 13.4), (92, 13.4),
    (95, 13.4), (98, 13.6), (101, 13.7), (104, 13.5), (107, 13.3), (110, 13.3), (113, 13.3),
    (116, 13.4), (119, 13.4), (122, 13.4), (125, 13.3), (128, 13.2), (131, 13.1),
    (134, 13.0), (137, 12.8), (140, 12.5), (143, 12.4), (146, 12.3), (149, 12.3),
    (152, 12.4), (155, 12.8), (157, 12.6), (160, 12.1), (163, 11.6), (166, 11.2),
    (169, 11.0), (172, 10.8), (175, 10.6), (180, 10.6), (185, 10.6), (190, 10.7),
    (195, 10.8), (200, 10.3), (201.5, 10.0), (202, 8.5), (202.5, 9.5), (205, 9.6),
    (210, 9.3), (216, 8.8), (219, 8.2), (220.5, 7.8), (221, 7.0), (221.5, 7.6), (223, 7.4),
    (226, 7.2), (229, 7.1), (232, 7.0), (236, 6.6), (240, 6.8), (244, 6.6), (248, 6.4),
    (250, 6.7), (252, 6.3), (256, 6.2), (260, 6.0), (264, 5.9), (268, 5.8), (272, 5.6),
    (276, 5.4), (280, 5.0), (284, 4.7), (288, 4.4), (292, 4.3), (296, 4.4), (300, 4.8),
    (303, 5.2), (306, 5.4), (310, 5.4), (314, 5.8), (318, 6.0), (322, 6.1), (326, 6.2),
    (330, 6.4), (334, 6.5), (336, 6.3), (338, 6.0), (341, 5.6), (345, 5.2),
]
temp7 = [
    (0, 6.5), (3, 6.7), (6, 6.9), (8, 7.0), (10, 7.5), (12, 7.9), (14, 8.1), (17, 8.3),
    (20, 8.4), (23, 8.5), (26, 8.5), (29, 8.6), (32, 8.7), (35, 8.9), (38, 9.1), (41, 9.3),
    (44, 9.6), (47, 9.9), (50, 10.2), (53, 10.4), (56, 10.6), (59, 10.8), (62, 11.2),
    (65, 11.4), (68, 11.7), (71, 12.1), (74, 12.3), (77, 12.4), (80, 12.6), (83, 12.9),
    (86, 13.1), (89, 13.2), (92, 13.3), (95, 13.3), (98, 13.5), (101, 13.6), (104, 13.4),
    (107, 13.3), (110, 13.2), (113, 13.2), (116, 13.2), (119, 13.2), (122, 13.2),
    (125, 13.2), (128, 13.2), (131, 13.1), (134, 13.0), (137, 12.9), (140, 12.6),
    (143, 12.4), (146, 12.2), (149, 12.2), (152, 12.3), (155, 12.5), (157, 12.4),
    (160, 12.0), (163, 11.6), (166, 11.2), (169, 11.0), (172, 10.8), (174, 10.6),
    (177, 10.4), (182, 10.3), (186, 10.5), (191.5, 10.6), (195.5, 10.4), (199.5, 10.0),
    (202, 9.3), (205, 9.3), (208.5, 9.3), (212.5, 9.1), (216.5, 8.9), (220.5, 8.4),
    (224.5, 7.8), (228.5, 7.4), (232.5, 7.1), (236.5, 6.8), (240.5, 6.8), (244.5, 6.8),
    (248.5, 6.6), (252.5, 6.3), (256.5, 6.1), (260.5, 5.9), (264.5, 5.9), (268.5, 5.7),
    (272.5, 5.5), (276.5, 5.2), (280.5, 4.8), (284.5, 4.5), (288.5, 4.2), (292.5, 4.1),
    (296.5, 4.3), (300.5, 4.6), (304.5, 5.0), (308.5, 5.2), (312.5, 5.3), (316.5, 5.6),
    (320.5, 5.8), (324.5, 5.9), (328.5, 6.0), (332.5, 6.2), (336, 6.2), (338.5, 5.9),
    (341.5, 5.6), (345, 5.2),
]
rt274 = [
    (5, 6.9), (8, 7.1), (11, 7.8), (13, 8.2), (17, 8.4), (20, 8.6), (23, 8.6), (26, 8.7),
    (29, 8.8), (32, 9.0), (35, 9.2), (38, 9.4), (41, 9.7), (44, 10.1), (47, 10.3),
    (50, 10.5), (53, 10.7), (56, 10.8), (57, 11.4), (57.5, 10.3), (58, 10.6), (62, 11.3),
    (65, 11.5), (68, 12.0), (71, 12.3), (74, 12.4), (77, 12.5), (80, 12.8), (83, 13.1),
    (86, 13.1), (89, 13.1), (92, 13.1), (95, 13.1), (98, 13.2), (101, 13.4), (104, 13.2),
    (107, 13.0), (110, 12.9), (113, 12.9), (116, 13.0), (119, 13.0), (122, 13.1),
    (125, 13.1), (128, 13.0), (131, 13.0), (134, 12.9), (137, 12.9), (140, 12.5),
    (143, 12.3), (146, 12.2), (149, 12.2), (152, 12.3), (155, 12.6), (157, 12.5),
    (160, 12.0), (163, 11.6), (166, 11.2), (169, 11.0), (172, 10.8), (175, 10.6),
    (180, 10.5), (185, 10.5), (190, 10.6), (195, 10.6), (200, 10.2), (201.5, 9.9),
    (202, 8.3), (202.5, 9.4), (205, 9.5), (210, 9.3), (216, 8.8), (220, 8.0), (222, 7.2),
    (222.5, 7.9), (225, 7.8), (228, 7.4), (232, 7.1), (236, 6.7), (238, 6.9), (240, 6.9),
    (244, 6.8), (248, 6.6), (252, 6.4), (256, 6.3), (260, 6.1), (264, 6.0), (268, 5.9),
    (272, 5.7), (276, 5.5), (280, 5.2), (284, 4.8), (286, 4.5), (286.5, 3.5), (287, 4.5),
    (288, 4.4), (288.5, 3.3), (289, 4.3), (290, 4.2), (290.5, 3.4), (291, 4.2), (294, 4.2),
    (296, 4.3), (298, 4.6), (300, 4.6), (304, 4.9), (308, 5.1), (312, 5.2), (316, 5.4),
    (320, 5.7), (324, 5.9), (328, 6.1), (332, 6.2), (335, 6.3), (337, 6.0), (338.5, 5.8),
    (339, 5.2), (339.5, 5.8), (342, 5.6), (345, 5.2),
]

RED = "#FF0000"
BLACK = "#000000"
RAIN_BLUE = "#6699FF"
LAVENDER = "#9A9AFF"
CYAN = "#1EC8F5"
SPINE = "#505050"
TICK_FS = 15.5
LEG_FS = 11.9


def frame_from_pairs(pairs):
    d, v = zip(*pairs)
    return pd.DataFrame({"date": START + pd.to_timedelta(np.array(d), unit="D"),
                         "T": np.array(v, dtype=float)})


def frame_from_daily(first_day, values):
    d = first_day + np.arange(len(values))
    return pd.DataFrame({"date": START + pd.to_timedelta(d, unit="D"),
                         "T": np.array(values, dtype=float)})


def draw_line(ax, df, color, lw=0.9):
    sns.lineplot(data=df, x="date", y="T", ax=ax, color=color, lw=lw,
                 estimator=None, errorbar=None, sort=False, legend=False)


def style_axes(ax, ymax, ymajor, yminor, bottom_offset=0):
    ax.set_xlim(START, START + pd.Timedelta(days=X_END_DAY))
    ax.set_ylim(0, ymax)
    ax.xaxis.set_major_locator(FixedLocator(
        mdates.date2num([START + pd.Timedelta(days=d) for d in tick_days])))
    ax.xaxis.set_minor_locator(FixedLocator(
        mdates.date2num([START + pd.Timedelta(days=d) for d in minor_days])))
    ax.set_xticklabels(tick_labels)
    ax.yaxis.set_major_locator(MultipleLocator(ymajor))
    ax.yaxis.set_minor_locator(MultipleLocator(yminor))
    for side in ("top", "right"):
        ax.spines[side].set_visible(False)
    for side in ("left", "bottom"):
        ax.spines[side].set_color(SPINE)
        ax.spines[side].set_linewidth(1.0)
    if bottom_offset:
        ax.spines["bottom"].set_position(("outward", bottom_offset))
    ax.tick_params(axis="both", which="major", direction="out", length=13, width=1.0,
                   color=SPINE, labelcolor="black", labelsize=TICK_FS)
    ax.tick_params(axis="both", which="minor", direction="out", length=6.5, width=1.0,
                   color=SPINE)
    ax.tick_params(axis="x", which="major", pad=15)
    ax.tick_params(axis="y", which="major", pad=11)
    ax.set_xlabel("")
    ax.set_ylabel("")


W, H = 1235, 1667
fig = plt.figure(figsize=(W / 100, H / 100), dpi=100)


def add_axes(left_px, right_px, top_px, bottom_px):
    return fig.add_axes([left_px / W, 1 - bottom_px / H,
                         (right_px - left_px) / W, (bottom_px - top_px) / H])


def legend_at(ax, handles, labels, x_px, top_px):
    return ax.legend(handles, labels, loc="upper left",
                     bbox_to_anchor=(x_px / W, 1 - top_px / H),
                     bbox_transform=fig.transFigure, frameon=False,
                     fontsize=LEG_FS, handlelength=1.48, handletextpad=0.58,
                     labelspacing=0.6, borderpad=0, borderaxespad=0)


def lh(color):
    return Line2D([0], [0], color=color, lw=1.3)


# ---- panel 1 ----
ax1 = add_axes(98.8, 1133, 27.7, 270.3)
ax1r = ax1.twinx()
rain_day, rain_mm = zip(*precipitation)
rain_dates = START + pd.to_timedelta(np.array(rain_day), unit="D")
ax1r.bar(rain_dates, rain_mm, width=0.7, color=RAIN_BLUE, linewidth=0, align="center")
ax1r.set_ylim(0, 50)
ax1r.yaxis.set_major_locator(MultipleLocator(10))
ax1r.yaxis.set_minor_locator(MultipleLocator(5))
for side in ("top", "left", "bottom"):
    ax1r.spines[side].set_visible(False)
ax1r.spines["right"].set_color(SPINE)
ax1r.tick_params(axis="y", which="major", direction="out", length=13, width=1.0,
                 color=SPINE, labelsize=TICK_FS, pad=11)
ax1r.tick_params(axis="y", which="minor", direction="out", length=6.5, width=1.0,
                 color=SPINE)
ax1r.set_ylabel("")
ax1.set_zorder(ax1r.get_zorder() + 1)
ax1.patch.set_visible(False)

draw_line(ax1, frame_from_daily(rt404_first_day, rt404), RED, lw=1.0)
draw_line(ax1, frame_from_pairs(temp2), BLACK, lw=0.9)
style_axes(ax1, 25, 5, 2.5)
ax1r.set_xlim(ax1.get_xlim())
legend_at(ax1, [lh(RED), lh(BLACK), lh(RAIN_BLUE)],
          ["RT 4.04 m", "Temp2 3.92 m", "Precipitation"], 815, 43.5)
fig.text(887 / W, 1 - 19.5 / H, "Sand", ha="center", va="center", fontsize=14)

# ---- panel 2 ----
ax2 = add_axes(98.8, 1133, 352.7, 595.7)
draw_line(ax2, frame_from_pairs(rt379), RED)
draw_line(ax2, frame_from_pairs(temp3), BLACK)
style_axes(ax2, 20, 4, 2)
legend_at(ax2, [lh(RED), lh(BLACK)],
          ["RT 3.79 m Demolition", "Temp3 3.68 m Backfill"], 978, 395.7)

# ---- panel 3 ----
ax3 = add_axes(98.8, 1133, 678, 921)
draw_line(ax3, frame_from_pairs(rt354), RED)
draw_line(ax3, frame_from_pairs(temp4), BLACK)
style_axes(ax3, 20, 4, 2)
legend_at(ax3, [lh(RED), lh(BLACK)],
          ["RT 3.54 m Sand", "Temp4 3.46 m Backfill"], 978, 712.4)

# ---- panel 4 ----
ax4 = add_axes(97, 1130, 1000, 1243.3)
draw_line(ax4, frame_from_pairs(rt329), RED)
draw_line(ax4, frame_from_pairs(temp5), BLACK)
draw_line(ax4, frame_from_pairs(rt324), LAVENDER)
style_axes(ax4, 20, 4, 2, bottom_offset=6)
legend_at(ax4, [lh(RED), lh(BLACK), lh(LAVENDER)],
          ["RT 3.29 m Dutch sand", "Temp5 3.21 m Backfill", "RT 3.24 m Dutch sand"],
          978, 1026)

# ---- panel 5 ----
ax5 = add_axes(97, 1130, 1332, 1575)
draw_line(ax5, frame_from_pairs(rt274), CYAN)
draw_line(ax5, frame_from_pairs(rt280), RED)
draw_line(ax5, frame_from_pairs(temp7), BLACK)
style_axes(ax5, 20, 4, 2)
legend_at(ax5, [lh(RED), lh(BLACK), lh(CYAN)],
          ["RT 2.8 m (6) Silty_sandy humus", "Temp7 2.77 m Lime_sand", "RT 2.74 m Lime"],
          875, 1369.2)

# axis titles
for yc, txt in [(149, "T (°C)"), (474.2, "T (°C)"), (799.5, "T (°C)"),
                (1121.7, "T (°C)"), (1453.5, "T ( °C)")]:
    fig.text(22 / W, 1 - yc / H, txt, rotation=90, ha="center", va="center", fontsize=15.5)
fig.text(1221 / W, 1 - 149 / H, "Precipitation (mm)", rotation=90,
         ha="center", va="center", fontsize=15.5)
fig.text(612 / W, 1 - 1657 / H, "Date", ha="center", va="center", fontsize=15.5)

fig.savefig("out.png", dpi=100)
